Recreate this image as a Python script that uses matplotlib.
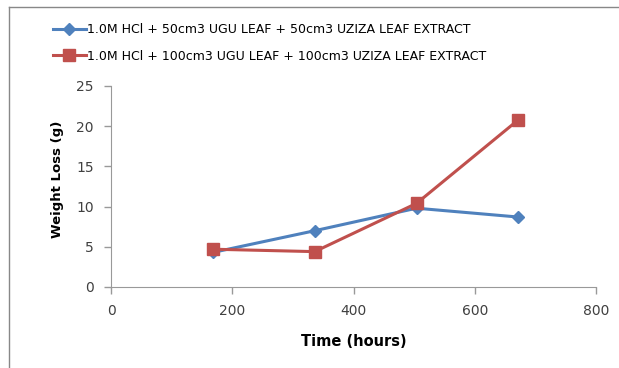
import matplotlib.pyplot as plt
from matplotlib.lines import Line2D

# data
time_hours = [168, 336, 504, 672]
loss_50 = [4.3, 7.0, 9.8, 8.7]
loss_100 = [4.7, 4.4, 10.4, 20.8]
label_50 = "1.0M HCl + 50cm3 UGU LEAF + 50cm3 UZIZA LEAF EXTRACT"
label_100 = "1.0M HCl + 100cm3 UGU LEAF + 100cm3 UZIZA LEAF EXTRACT"

plt.rcParams['font.family'] = ['DejaVu Sans']

fig = plt.figure(figsize=(6.19, 3.68), dpi=100)
ax = fig.add_axes([111 / 619, 1 - 287 / 368, 485 / 619, 201 / 368])

ax.plot(time_hours, loss_50, color="#4F81BD", lw=2.2, marker="D", markersize=6,
        label=label_50)
ax.plot(time_hours, loss_100, color="#C0504D", lw=2.2, marker="s", markersize=9,
        label=label_100)

ax.set_xlim(0, 800)
ax.set_ylim(0, 25)
ax.set_xticks(range(0, 801, 200))
ax.set_yticks(range(0, 26, 5))
ax.tick_params(colors="#404040", labelsize=10, length=5, color="#999999", width=1)
ax.tick_params(axis="x", pad=7.5)
ax.tick_params(axis="y", pad=7.5)
for side in ["top", "right"]:
    ax.spines[side].set_visible(False)
for side in ["left", "bottom"]:
    ax.spines[side].set_color("#999999")

ax.set_xlabel("Time (hours)", fontsize=10.5, fontweight="bold", labelpad=11)
ax.set_ylabel("Weight Loss (g)", fontsize=9.5, fontweight="bold", labelpad=9)
ax.yaxis.label.set_y(0.537)

ax.legend(loc="upper left", bbox_to_anchor=(48 / 619, 1 - 18 / 368),
          bbox_transform=fig.transFigure, frameon=False, fontsize=9,
          handlelength=2.6, handletextpad=0.15, labelspacing=1.1, borderaxespad=0)

# outer chart frame (left and top edges visible in the crop)
fig.add_artist(Line2D([9 / 619, 9 / 619], [0, 1 - 7 / 368], transform=fig.transFigure,
                      color="#888888", lw=1))
fig.add_artist(Line2D([9 / 619, 1], [1 - 7 / 368, 1 - 7 / 368], transform=fig.transFigure,
                      color="#888888", lw=1))

fig.savefig("out.png", dpi=100)
